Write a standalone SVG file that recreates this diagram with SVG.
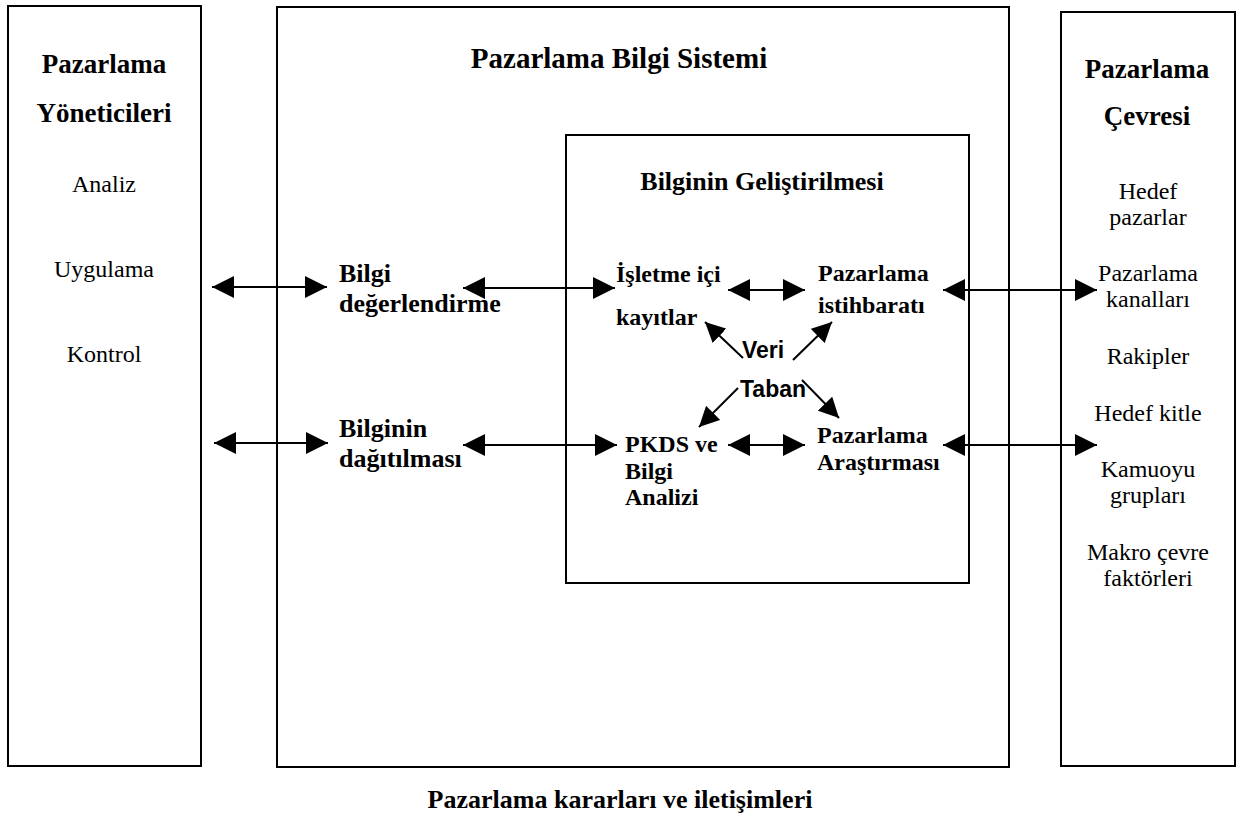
<svg xmlns="http://www.w3.org/2000/svg" width="1240" height="813" viewBox="0 0 1240 813">
  <style>
    .box { fill: none; stroke: #000; stroke-width: 2; }
    .title { font-family: "Liberation Serif", "Times New Roman", serif; font-weight: bold; fill: #000; }
    .item { font-family: "Liberation Serif", "Times New Roman", serif; font-size: 24px; fill: #000; text-anchor: middle; }
    .lbl { font-family: "Liberation Serif", "Times New Roman", serif; font-weight: bold; fill: #000; }
    .sans { font-family: "Liberation Sans", Arial, sans-serif; font-weight: bold; font-size: 23px; fill: #000; }
    .conn line { stroke: #000; stroke-width: 2; }
    .both { marker-start: url(#head); marker-end: url(#head); }
    .one { marker-end: url(#head2); }
  </style>
  <defs>
    <marker id="head" viewBox="0 0 22 22" refX="22" refY="11" markerWidth="22" markerHeight="22" markerUnits="userSpaceOnUse" orient="auto-start-reverse">
      <path d="M0,0 L22,11 L0,22 z" fill="#000"/>
    </marker>
    <marker id="head2" viewBox="0 0 20 20" refX="20" refY="10" markerWidth="20" markerHeight="20" markerUnits="userSpaceOnUse" orient="auto">
      <path d="M0,0 L20,10 L0,20 z" fill="#000"/>
    </marker>
  </defs>
  <rect width="1240" height="813" fill="#fff"/>

  <!-- Left column: managers -->
  <g id="yoneticiler">
    <rect class="box" x="8" y="6" width="193" height="760"/>
    <text class="title" font-size="27" x="104" y="73" text-anchor="middle">Pazarlama</text>
    <text class="title" font-size="27" x="104" y="122" text-anchor="middle">Yöneticileri</text>
    <text class="item" x="104" y="192">Analiz</text>
    <text class="item" x="104" y="277">Uygulama</text>
    <text class="item" x="104" y="362">Kontrol</text>
  </g>

  <!-- Centre: information system -->
  <g id="bilgi-sistemi">
    <rect class="box" x="277" y="7" width="732" height="760"/>
    <text class="title" font-size="29" x="619" y="68" text-anchor="middle">Pazarlama Bilgi Sistemi</text>
  </g>

  <g id="degerlendirme">
    <text class="lbl" font-size="26" x="339" y="282">Bilgi</text>
    <text class="lbl" font-size="26" x="339" y="312">değerlendirme</text>
  </g>

  <g id="dagitim">
    <text class="lbl" font-size="26" x="339" y="437">Bilginin</text>
    <text class="lbl" font-size="26" x="339" y="467">dağıtılması</text>
  </g>

  <!-- Inner box: developing information -->
  <g id="gelistirme">
    <rect class="box" x="566" y="135" width="403" height="448"/>
    <text class="title" font-size="26" x="762" y="190" text-anchor="middle">Bilginin Geliştirilmesi</text>
  </g>

  <g id="ic-kayitlar">
    <text class="lbl" font-size="24" x="616" y="282">İşletme içi</text>
    <text class="lbl" font-size="24" x="616" y="325">kayıtlar</text>
  </g>

  <g id="istihbarat">
    <text class="lbl" font-size="24" x="818" y="281">Pazarlama</text>
    <text class="lbl" font-size="24" x="818" y="313">istihbaratı</text>
  </g>

  <g id="pkds">
    <text class="lbl" font-size="24" x="625" y="452">PKDS ve</text>
    <text class="lbl" font-size="24" x="625" y="479">Bilgi</text>
    <text class="lbl" font-size="24" x="625" y="505">Analizi</text>
  </g>

  <g id="arastirma">
    <text class="lbl" font-size="24" x="817" y="443">Pazarlama</text>
    <text class="lbl" font-size="24" x="817" y="470">Araştırması</text>
  </g>

  <g id="veri-tabani">
    <text class="sans" x="742" y="358">Veri</text>
    <text class="sans" x="740" y="397">Taban</text>
  </g>

  <!-- Right column: environment -->
  <g id="cevre">
    <rect class="box" x="1061" y="12" width="174" height="754"/>
    <text class="title" font-size="27" x="1147" y="78" text-anchor="middle">Pazarlama</text>
    <text class="title" font-size="27" x="1147" y="125" text-anchor="middle">Çevresi</text>
    <text class="item" x="1148" y="199">Hedef</text>
    <text class="item" x="1148" y="225">pazarlar</text>
    <text class="item" x="1148" y="281">Pazarlama</text>
    <text class="item" x="1148" y="307">kanalları</text>
    <text class="item" x="1148" y="364">Rakipler</text>
    <text class="item" x="1148" y="421">Hedef kitle</text>
    <text class="item" x="1148" y="477">Kamuoyu</text>
    <text class="item" x="1148" y="503">grupları</text>
    <text class="item" x="1148" y="560">Makro çevre</text>
    <text class="item" x="1148" y="586">faktörleri</text>
  </g>

  <g id="caption">
    <text class="title" font-size="26" x="620" y="808" text-anchor="middle">Pazarlama kararları ve iletişimleri</text>
  </g>

  <!-- Connectors -->
  <g id="connectors" class="conn">
    <line class="both" x1="212" y1="287" x2="327" y2="287"/>
    <line class="both" x1="214" y1="443" x2="328" y2="443"/>
    <line class="both" x1="463" y1="288" x2="615" y2="288"/>
    <line class="both" x1="463" y1="445" x2="617" y2="445"/>
    <line class="both" x1="728" y1="290" x2="805" y2="290"/>
    <line class="both" x1="728" y1="445" x2="805" y2="445"/>
    <line class="both" x1="943" y1="290" x2="1097" y2="290"/>
    <line class="both" x1="943" y1="445" x2="1097" y2="445"/>
    <line class="one" x1="743" y1="358" x2="705" y2="322"/>
    <line class="one" x1="793" y1="360" x2="832" y2="322"/>
    <line class="one" x1="738" y1="388" x2="699" y2="427"/>
    <line class="one" x1="802" y1="380" x2="839" y2="418"/>
  </g>
</svg>
